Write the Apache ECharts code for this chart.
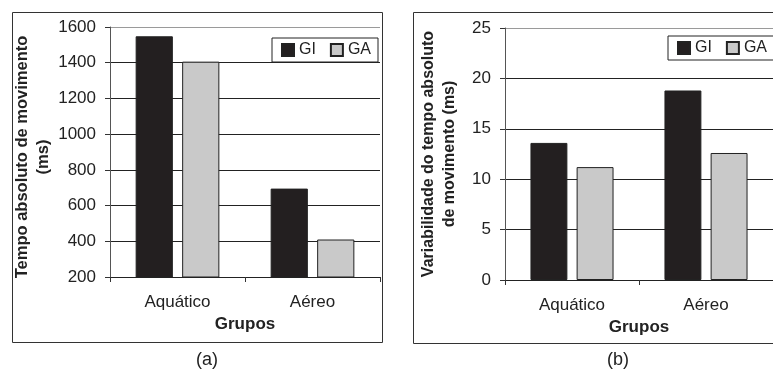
<!DOCTYPE html>
<html><head><meta charset="utf-8">
<script src="https://cdn.jsdelivr.net/npm/echarts@6/dist/echarts.min.js"></script>
<style>html,body{margin:0;padding:0;background:#fff}#c{width:773px;height:375px}</style>
</head><body><div id="c"></div>
<script>
// ---- data ----
const categories = ['Aquático', 'Aéreo'];
const seriesNames = ['GI', 'GA'];
const tempoGI = [1548, 695];
const tempoGA = [1406, 410];
const variabGI = [13.6, 18.8];
const variabGA = [11.2, 12.6];
const tempoTicks = [200, 400, 600, 800, 1000, 1200, 1400, 1600];
const variabTicks = [0, 5, 10, 15, 20, 25];
const xTitle = 'Grupos';
const yTitleA = 'Tempo absoluto de movimento\n(ms)';
const yTitleB = 'Variabilidade do tempo absoluto\nde movimento (ms)';
const panelLabels = ['(a)', '(b)'];

// ---- styling ----
const FONT = '"Liberation Sans", Arial, sans-serif';
const TXT = '#222';
const colGI = '#231f20';
const colGA = '#c9c9c9';

function yAxisFor(ticks, gridIndex, name, gap, pad, fs) {
  const n = ticks.length;
  const cols = ticks.map((t, i) => i === n - 1 ? '#9a9a9a' : '#222');
  return {
    type: 'value', gridIndex,
    min: ticks[0], max: ticks[n - 1], interval: ticks[1] - ticks[0],
    name, nameLocation: 'middle', nameGap: gap, nameRotate: 90,
    nameTextStyle: { fontFamily: FONT, fontWeight: 'bold', fontSize: fs, lineHeight: 21, color: TXT, padding: pad },
    axisLine: { show: true, lineStyle: { color: '#555', width: 1 } },
    axisTick: { show: true, length: 5, inside: false, lineStyle: { color: '#333' } },
    axisLabel: { fontFamily: FONT, fontSize: 17, color: TXT, margin: 14, formatter: v => String(v) },
    splitLine: { show: true, lineStyle: { color: cols, width: 1 } }
  };
}
function xAxisFor(gridIndex) {
  return {
    type: 'category', gridIndex, data: categories,
    name: xTitle, nameLocation: 'middle', nameGap: 28,
    nameTextStyle: { fontFamily: FONT, fontWeight: 'bold', fontSize: 17, color: TXT },
    axisLine: { show: true, lineStyle: { color: '#222', width: 1 } },
    axisTick: { show: true, length: 5, alignWithLabel: false, lineStyle: { color: '#333' } },
    axisLabel: { fontFamily: FONT, fontSize: 17, color: TXT, margin: 17 },
    splitLine: { show: false }
  };
}
function bar(name, data, color, idx) {
  return {
    name, type: 'bar', data, xAxisIndex: idx, yAxisIndex: idx,
    barGap: '25%', barCategoryGap: '38%',
    itemStyle: { color, borderColor: '#222', borderWidth: 1 },
    emphasis: { disabled: true }, animation: false
  };
}
function legendAt(left, top) {
  return {
    data: seriesNames, left, top, width: 140, orient: 'horizontal',
    icon: 'rect', itemWidth: 12, itemHeight: 12, itemGap: 14,
    padding: [4, 7, 4, 9],
    borderColor: '#222', borderWidth: 1, backgroundColor: '#fff',
    textStyle: { fontFamily: FONT, fontSize: 16, color: TXT, padding: [0, 0, 6, 0] },
    selectedMode: false
  };
}

const chart = echarts.init(document.getElementById('c'), null, { renderer: 'canvas' });
chart.setOption({
  backgroundColor: '#fff',
  animation: false,
  grid: [
    { left: 110, top: 27, width: 270, height: 250 },
    { left: 505, top: 28, width: 280, height: 252 }
  ],
  xAxis: [xAxisFor(0), xAxisFor(1)],
  yAxis: [
    yAxisFor(tempoTicks, 0, yTitleA, 47, [0, 10, 0, 0], 16.5),
    yAxisFor(variabTicks, 1, yTitleB, 45, [0, 0, 0, 0], 16)
  ],
  legend: [legendAt(272, 38), legendAt(668, 36)],
  series: [
    bar(seriesNames[0], tempoGI, colGI, 0),
    bar(seriesNames[1], tempoGA, colGA, 0),
    bar(seriesNames[0], variabGI, colGI, 1),
    bar(seriesNames[1], variabGA, colGA, 1)
  ],
  graphic: [
    { type: 'rect', silent: true, z: -1, shape: { x: 12.5, y: 12.5, width: 370, height: 330 },
      style: { fill: null, stroke: '#333', lineWidth: 1 } },
    { type: 'rect', silent: true, z: -1, shape: { x: 413.5, y: 12.5, width: 400, height: 331 },
      style: { fill: null, stroke: '#333', lineWidth: 1 } },
    { type: 'text', left: 196, top: 351, style: { text: panelLabels[0], font: '18px ' + FONT, fill: TXT } },
    { type: 'text', left: 607, top: 351, style: { text: panelLabels[1], font: '18px ' + FONT, fill: TXT } }
  ]
});
</script></body></html>
